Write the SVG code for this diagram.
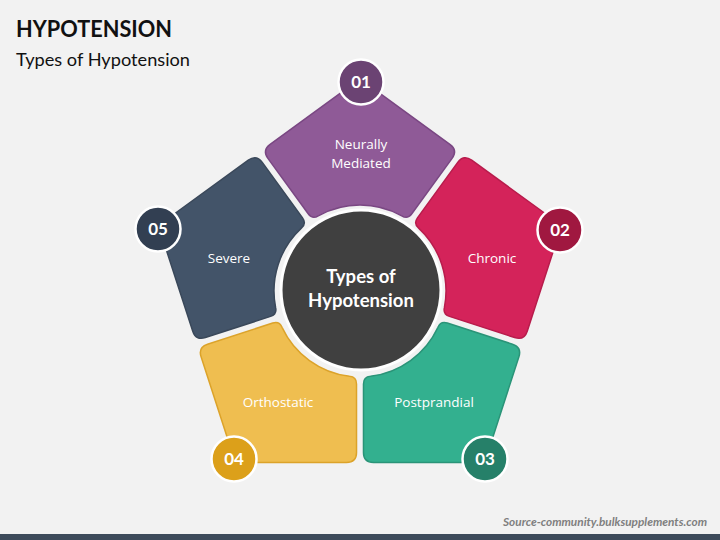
<svg xmlns="http://www.w3.org/2000/svg" xmlns:xlink="http://www.w3.org/1999/xlink" width="720" height="540" viewBox="0 0 720 540">
  <style>
    .title{font-family:Lato,"Liberation Sans",sans-serif;font-weight:700;font-size:23px;fill:#111}
    .sub{font-family:Lato,"Liberation Sans",sans-serif;font-size:17.5px;fill:#111}
    .lbl{font-family:"Open Sans",Lato,"Liberation Sans",sans-serif;font-size:13.5px;fill:#fff;text-anchor:middle}
    .ctr{font-family:Lato,"Liberation Sans",sans-serif;font-weight:700;font-size:18.5px;fill:#fff;text-anchor:middle}
    .num{font-family:Lato,"Liberation Sans",sans-serif;font-weight:700;font-size:17px;fill:#fff;text-anchor:middle}
    .badge{stroke:#fff;stroke-width:2.5}
    .piece{stroke-width:1.5}
    .src{font-family:Lato,"Liberation Sans",sans-serif;font-weight:700;font-style:italic;font-size:11.5px;fill:#7f7f7f;text-anchor:end}
  </style>
  <defs>
    <path id="piece" d="M-41.71,-75.21 Q-47.68,-71.58 -51.80,-77.24 L-92.09,-132.67 Q-97.97,-140.76 -89.88,-146.64 L-11.33,-203.77 Q0,-212 11.33,-203.77 L89.88,-146.64 Q97.97,-140.76 92.09,-132.67 L51.80,-77.24 Q47.68,-71.58 41.71,-75.21 A86,86 0 0 0 -41.71,-75.21 Z"/>
  </defs>
  <rect width="720" height="540" fill="#f2f2f2"/>
  <rect x="0" y="534" width="720" height="6" fill="#3e4b5b"/>
  <text class="title" x="16" y="37" textLength="156" lengthAdjust="spacingAndGlyphs">HYPOTENSION</text>
  <text class="sub" x="16" y="66" textLength="174" lengthAdjust="spacingAndGlyphs">Types of Hypotension</text>
  <text class="src" x="707" y="526" textLength="204" lengthAdjust="spacingAndGlyphs">Source-community.bulksupplements.com</text>

  <g id="connectors"></g>

  <g id="node-1">
    <use xlink:href="#piece" class="piece" transform="translate(360,291)" fill="#8f5a97" stroke="#7a4783"/>
    <text class="lbl" x="361" y="149">Neurally</text>
    <text class="lbl" x="361" y="168">Mediated</text>
    <circle class="badge" cx="361" cy="82" r="22.5" fill="#6b4373"/>
    <text class="num" x="361" y="88">01</text>
  </g>
  <g id="node-2">
    <use xlink:href="#piece" class="piece" transform="translate(360,291) rotate(72)" fill="#d4235a" stroke="#b81c4c"/>
    <text class="lbl" x="492" y="263">Chronic</text>
    <circle class="badge" cx="560" cy="230" r="22.5" fill="#a01840"/>
    <text class="num" x="560" y="236">02</text>
  </g>
  <g id="node-3">
    <use xlink:href="#piece" class="piece" transform="translate(360,291) rotate(144)" fill="#33b08f" stroke="#2a9478"/>
    <text class="lbl" x="434" y="407">Postprandial</text>
    <circle class="badge" cx="485" cy="459" r="22.5" fill="#268069"/>
    <text class="num" x="485" y="465">03</text>
  </g>
  <g id="node-4">
    <use xlink:href="#piece" class="piece" transform="translate(360,291) rotate(216)" fill="#efbe50" stroke="#dca32a"/>
    <text class="lbl" x="278" y="407">Orthostatic</text>
    <circle class="badge" cx="234" cy="459" r="22.5" fill="#dca01a"/>
    <text class="num" x="234" y="465">04</text>
  </g>
  <g id="node-5">
    <use xlink:href="#piece" class="piece" transform="translate(360,291) rotate(288)" fill="#435469" stroke="#3a485a"/>
    <text class="lbl" x="229" y="263">Severe</text>
    <circle class="badge" cx="158" cy="229" r="22.5" fill="#323f52"/>
    <text class="num" x="158" y="235">05</text>
  </g>
  <g id="center">
    <circle cx="361" cy="290" r="80" fill="#404040" stroke="#fff" stroke-width="3"/>
    <text class="ctr" x="361" y="283">Types of</text>
    <text class="ctr" x="361" y="307">Hypotension</text>
  </g>
</svg>
